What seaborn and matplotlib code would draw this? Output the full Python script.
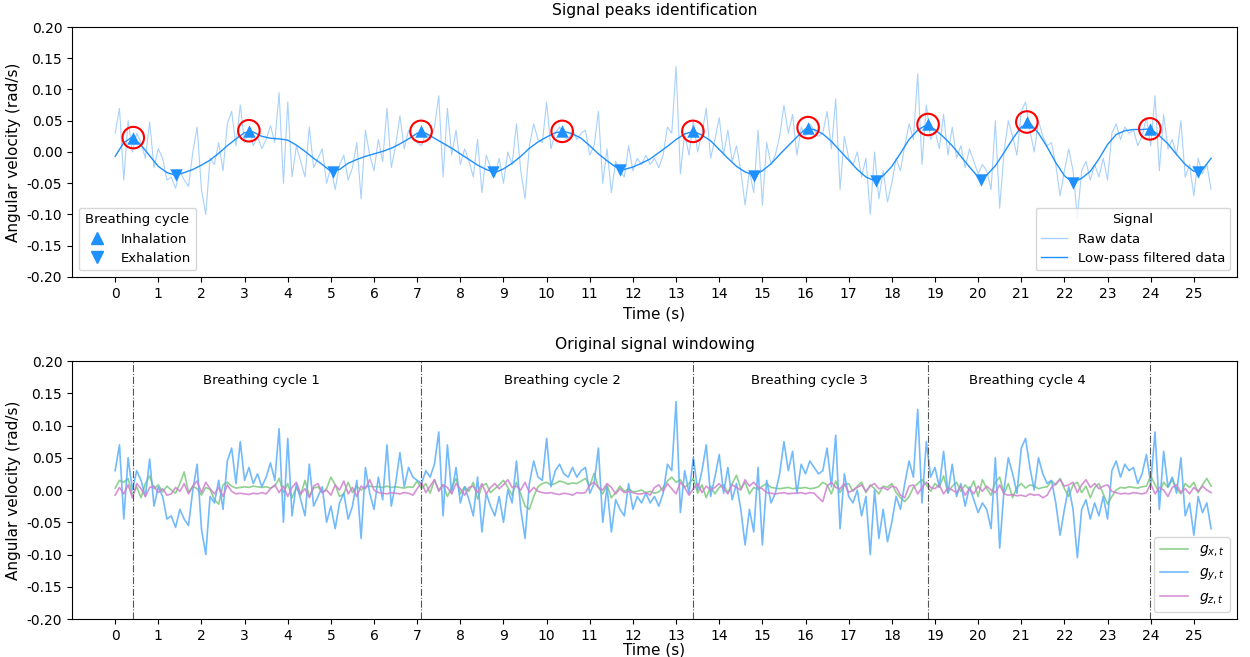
import numpy as np
import pandas as pd
import matplotlib
matplotlib.use("Agg")
import matplotlib.pyplot as plt
import seaborn as sns
from matplotlib.lines import Line2D

# ---------------- data ----------------
sample_rate = 10  # Hz (samples of the digitised signal)

gy = [
    0.030, 0.070, -0.045, 0.050, 0.000, 0.030, 0.015, -0.010, 0.048, -0.025,
    0.005, -0.010, -0.045, -0.040, -0.058, -0.030, -0.045, -0.055, 0.000, 0.040,
    -0.060, -0.100, -0.010, -0.020, 0.015, -0.030, 0.045, 0.065, 0.010, 0.075,
    0.015, 0.035, 0.010, 0.025, 0.005, 0.020, 0.042, 0.015, 0.095, -0.050,
    0.080, -0.040, 0.010, -0.015, -0.040, 0.040, -0.025, -0.010, 0.005, -0.050,
    -0.025, -0.060, -0.020, -0.005, -0.045, -0.025, 0.015, -0.075, 0.035, -0.005,
    -0.030, 0.020, -0.015, 0.070, -0.025, 0.010, 0.058, 0.005, 0.035, 0.020,
    0.015, 0.010, 0.030, 0.020, 0.040, 0.090, -0.040, 0.070, -0.005, 0.035,
    -0.020, 0.005, -0.015, -0.040, 0.020, -0.065, -0.005, -0.025, -0.040, -0.010,
    -0.050, 0.000, -0.020, 0.045, -0.030, -0.075, 0.010, 0.045, 0.020, 0.015,
    0.080, 0.005, 0.030, 0.040, 0.025, 0.020, 0.035, 0.020, 0.030, 0.035,
    -0.005, 0.010, 0.065, -0.050, 0.005, -0.065, -0.015, -0.030, -0.040, 0.010,
    -0.030, -0.010, -0.020, -0.005, -0.020, -0.010, -0.025, -0.005, 0.040, 0.030,
    0.137, -0.035, 0.030, -0.005, 0.050, 0.000, 0.030, 0.070, -0.010, 0.020,
    0.055, -0.005, 0.035, -0.015, 0.010, -0.030, -0.085, -0.030, -0.065, 0.035,
    -0.085, 0.015, -0.020, -0.005, 0.025, 0.075, 0.030, 0.060, -0.005, 0.040,
    0.025, 0.045, 0.035, 0.025, 0.030, 0.065, 0.005, 0.085, -0.060, 0.025,
    -0.010, -0.020, 0.000, -0.040, -0.010, -0.100, 0.000, -0.075, -0.030, -0.080,
    -0.050, -0.010, -0.030, 0.010, 0.045, 0.020, 0.125, -0.020, 0.075, 0.020,
    0.035, 0.005, 0.060, -0.005, 0.040, -0.010, 0.010, -0.025, 0.005, -0.015,
    -0.035, -0.020, -0.030, -0.060, 0.050, -0.090, 0.000, 0.050, 0.025, -0.005,
    0.065, 0.080, 0.035, 0.000, 0.050, 0.025, 0.010, 0.015, -0.020, -0.070,
    -0.030, 0.005, -0.030, -0.105, -0.030, -0.015, -0.045, -0.020, -0.040, -0.010,
    -0.045, 0.030, 0.045, 0.020, 0.040, 0.030, 0.035, 0.010, 0.025, 0.055,
    0.010, 0.090, -0.030, 0.060, 0.005, 0.020, -0.005, 0.050, -0.040, -0.020,
    -0.070, -0.010, -0.035, -0.020, -0.060,
]

gx = [
    0.003, 0.015, 0.012, 0.018, -0.008, 0.005, -0.012, 0.010, 0.022, 0.002,
    0.008, -0.003, 0.006, 0.000, -0.005, 0.010, 0.028, -0.004, 0.006, 0.002,
    -0.008, 0.004, 0.001, -0.015, -0.022, 0.008, 0.012, 0.006, 0.003, 0.004,
    0.005, 0.004, 0.006, 0.005, 0.004, 0.005, 0.003, 0.006, 0.018, -0.004,
    0.010, -0.012, 0.004, -0.008, 0.015, -0.010, 0.003, 0.005, -0.004, 0.002,
    0.020, 0.008, -0.010, -0.006, 0.012, -0.004, 0.006, 0.000, 0.005, 0.006,
    0.005, 0.005, 0.004, 0.006, 0.004, 0.005, 0.004, 0.003, 0.005, 0.004,
    0.014, 0.002, 0.010, -0.005, 0.016, 0.000, 0.008, -0.010, 0.004, 0.018,
    -0.006, 0.005, -0.002, 0.012, -0.014, 0.006, 0.010, -0.004, 0.002, 0.008,
    0.015, 0.004, -0.008, 0.012, -0.006, -0.025, -0.030, -0.010, 0.005, 0.010,
    0.012, 0.008, 0.010, 0.014, 0.012, 0.009, 0.011, 0.010, 0.014, 0.018,
    0.006, 0.026, 0.004, -0.006, 0.008, -0.012, -0.004, 0.006, -0.002, 0.002,
    -0.003, -0.002, 0.000, -0.004, -0.002, -0.005, -0.003, 0.004, 0.014, 0.020,
    0.012, 0.016, 0.004, 0.010, 0.018, -0.005, 0.008, -0.012, 0.006, -0.006,
    0.004, 0.008, -0.004, 0.010, 0.023, 0.002, 0.012, -0.006, 0.004, 0.001,
    0.006, 0.010, 0.004, 0.003, 0.002, 0.003, 0.004, 0.002, 0.003, 0.003,
    0.004, 0.002, 0.003, 0.005, 0.012, 0.008, -0.006, 0.014, -0.004, 0.008,
    0.010, -0.002, 0.006, 0.012, -0.004, 0.008, 0.002, -0.006, 0.006, 0.004,
    0.010, -0.004, -0.012, -0.018, -0.010, 0.004, 0.010, 0.016, 0.008, -0.002,
    0.010, 0.004, 0.022, -0.004, 0.006, 0.012, -0.002, 0.008, 0.000, 0.014,
    -0.010, 0.016, 0.002, -0.008, 0.012, 0.020, -0.006, 0.010, -0.012, 0.004,
    0.010, 0.003, 0.008, 0.006, 0.002, 0.004, 0.005, 0.014, 0.008, 0.018,
    0.002, -0.010, 0.008, 0.012, -0.004, 0.006, -0.012, 0.004, 0.010, -0.006,
    -0.022, -0.010, 0.000, 0.004, 0.003, 0.005, 0.004, 0.003, 0.005, 0.006,
    0.022, 0.008, -0.004, 0.012, 0.004, 0.016, 0.002, -0.006, 0.010, 0.004,
    0.012, -0.004, 0.008, 0.018, 0.006,
]

gz = [
    -0.008, 0.004, -0.006, 0.008, -0.012, 0.010, 0.002, -0.010, 0.004, 0.006,
    -0.004, 0.002, -0.008, -0.006, 0.004, -0.002, 0.010, -0.006, 0.006, 0.014,
    -0.004, 0.012, 0.002, -0.006, 0.004, -0.010, 0.008, -0.002, -0.006, -0.005,
    -0.006, -0.007, -0.005, -0.006, -0.004, -0.006, 0.002, 0.008, -0.004, 0.006,
    -0.010, 0.004, 0.012, -0.006, 0.002, -0.012, 0.006, 0.010, -0.004, 0.000,
    -0.008, 0.008, 0.000, 0.014, -0.006, 0.004, -0.010, 0.006, 0.002, 0.016,
    0.000, -0.004, -0.005, -0.006, -0.004, -0.005, -0.006, -0.004, -0.005, -0.008,
    0.002, 0.012, -0.004, 0.006, 0.016, -0.002, 0.008, 0.004, -0.006, 0.010,
    0.002, -0.008, 0.004, 0.006, -0.004, 0.010, -0.006, 0.004, 0.010, 0.002,
    0.008, 0.016, 0.004, 0.006, 0.000, 0.012, -0.004, 0.004, -0.002, -0.004,
    -0.005, -0.004, -0.006, -0.007, -0.005, -0.006, -0.008, -0.004, -0.005, -0.004,
    0.008, 0.012, 0.004, 0.000, 0.010, 0.004, -0.006, 0.002, -0.004, -0.002,
    -0.004, -0.006, -0.006, -0.004, -0.008, 0.004, 0.008, -0.002, 0.010, 0.002,
    -0.006, 0.012, 0.004, -0.008, 0.002, 0.010, -0.004, 0.006, 0.000, 0.004,
    0.010, 0.002, -0.006, 0.008, 0.004, 0.000, 0.016, 0.006, 0.012, 0.004,
    0.002, -0.004, -0.005, -0.006, -0.005, -0.004, -0.006, -0.005, -0.005, -0.004,
    -0.006, -0.004, -0.005, -0.012, -0.018, 0.006, 0.012, 0.004, 0.002, 0.010,
    -0.004, 0.000, 0.004, 0.008, -0.002, 0.006, 0.010, 0.002, 0.004, 0.000,
    0.006, 0.004, -0.008, -0.012, 0.006, 0.008, -0.006, 0.004, 0.012, 0.004,
    0.002, 0.008, -0.006, 0.004, 0.000, -0.004, 0.006, -0.008, 0.002, -0.006,
    0.006, -0.002, 0.006, 0.000, -0.004, 0.008, -0.006, -0.008, -0.007, -0.009,
    -0.008, -0.010, -0.006, -0.008, -0.007, -0.012, -0.008, 0.004, 0.010, 0.016,
    0.006, 0.008, 0.012, -0.004, 0.008, 0.016, 0.004, 0.010, 0.002, 0.006,
    0.008, -0.002, -0.004, -0.006, -0.005, -0.006, -0.004, -0.005, -0.006, -0.004,
    0.010, -0.006, 0.004, 0.000, -0.010, 0.004, 0.008, -0.004, 0.002, -0.006,
    0.004, -0.002, 0.006, 0.000, -0.004,
]

# low-pass filtered signal, read every 0.2 s
filt_rate = 5  # Hz
filtered = [
    -0.007, 0.015, 0.024, 0.011, -0.006, -0.023, -0.033, -0.037, -0.033, -0.028,
    -0.021, -0.013, -0.002, 0.010, 0.021, 0.031, 0.032, 0.025, 0.022, 0.021,
    0.019, 0.011, 0.001, -0.010, -0.020, -0.031, -0.028, -0.018, -0.012, -0.007,
    -0.003, 0.001, 0.006, 0.013, 0.021, 0.030, 0.030, 0.022, 0.014, 0.006,
    -0.003, -0.012, -0.021, -0.028, -0.033, -0.027, -0.018, -0.007, 0.006, 0.016,
    0.024, 0.031, 0.033, 0.029, 0.022, 0.010, -0.003, -0.014, -0.024, -0.028,
    -0.024, -0.018, -0.011, -0.001, 0.009, 0.020, 0.029, 0.033, 0.027, 0.018,
    0.004, -0.010, -0.023, -0.032, -0.037, -0.030, -0.019, -0.004, 0.010, 0.024,
    0.037, 0.036, 0.029, 0.017, 0.002, -0.013, -0.028, -0.040, -0.046, -0.038,
    -0.023, -0.002, 0.020, 0.035, 0.043, 0.036, 0.024, 0.010, -0.007, -0.024,
    -0.040, -0.037, -0.022, -0.001, 0.021, 0.040, 0.046, 0.030, 0.008, -0.017,
    -0.038, -0.049, -0.042, -0.031, -0.011, 0.012, 0.028, 0.034, 0.036, 0.036,
    0.037, 0.026, 0.013, -0.004, -0.020, -0.031, -0.028, -0.010,
]

inhale_t = [0.42, 3.10, 7.09, 10.36, 13.39, 16.06, 18.84, 21.13, 23.98]
inhale_v = [0.023, 0.034, 0.033, 0.033, 0.033, 0.039, 0.044, 0.048, 0.037]
exhale_t = [1.41, 5.05, 8.76, 11.70, 14.80, 17.63, 20.06, 22.20, 25.09]
exhale_v = [-0.037, -0.032, -0.032, -0.029, -0.038, -0.046, -0.045, -0.050, -0.032]

cycle_labels = ["Breathing cycle 1", "Breathing cycle 2", "Breathing cycle 3", "Breathing cycle 4"]
cycle_label_t = [3.38, 10.36, 16.08, 21.15]
x_ticks = list(range(0, 26))
y_ticks = [-0.20, -0.15, -0.10, -0.05, 0.00, 0.05, 0.10, 0.15, 0.20]

# ---------------- frames ----------------
t = np.arange(len(gy)) / sample_rate
t_f = np.arange(len(filtered)) / filt_rate
raw_df = pd.DataFrame({"t": t, "gx": gx, "gy": gy, "gz": gz})
filt_df = pd.DataFrame({"t": t_f, "v": filtered})
inh_df = pd.DataFrame({"t": inhale_t, "v": inhale_v})
exh_df = pd.DataFrame({"t": exhale_t, "v": exhale_v})

# ---------------- figure ----------------
fig = plt.figure(figsize=(12.5, 6.57), dpi=100)
L, W = 0.0576, 0.932
ax1 = fig.add_axes([L, 0.5784, W, 0.3805])
ax2 = fig.add_axes([L, 0.0578, W, 0.3927])

BLUE = "#1e90ff"
RAW = "#a9d1fb"
LAB = 11
TIT = 11.2
LEG = 9.5

sns.lineplot(data=raw_df, x="t", y="gy", ax=ax1, color=RAW, linewidth=0.8,
             estimator=None, legend=False)
sns.lineplot(data=filt_df, x="t", y="v", ax=ax1, color=BLUE, linewidth=1.0,
             estimator=None, legend=False)
sns.scatterplot(data=inh_df, x="t", y="v", ax=ax1, marker="^", s=80,
                color=BLUE, edgecolor=BLUE, linewidth=0, zorder=4, legend=False)
sns.scatterplot(data=exh_df, x="t", y="v", ax=ax1, marker="v", s=80,
                color=BLUE, edgecolor=BLUE, linewidth=0, zorder=4, legend=False)
ax1.scatter(inh_df["t"], inh_df["v"], s=240, facecolors="none",
            edgecolors="red", linewidths=1.5, zorder=5)

ax1.set_title("Signal peaks identification", fontsize=TIT, pad=9)
ax1.set_xlabel("Time (s)", fontsize=LAB)
ax1.set_ylabel("Angular velocity (rad/s)", fontsize=LAB)

leg_a = ax1.legend(
    handles=[Line2D([], [], ls="none", marker="^", color=BLUE, markersize=9),
             Line2D([], [], ls="none", marker="v", color=BLUE, markersize=9)],
    labels=["Inhalation", "Exhalation"], title="Breathing cycle",
    loc="lower left", fontsize=LEG, title_fontsize=LEG)
ax1.add_artist(leg_a)
ax1.legend(
    handles=[Line2D([], [], color=RAW, lw=1.0), Line2D([], [], color=BLUE, lw=1.0)],
    labels=["Raw data", "Low-pass filtered data"], title="Signal",
    loc="lower right", fontsize=LEG, title_fontsize=LEG)

# bottom
sns.lineplot(data=raw_df, x="t", y="gx", ax=ax2, color="#7cc97c", alpha=0.85,
             linewidth=1.2, estimator=None, label="$g_{x,t}$")
sns.lineplot(data=raw_df, x="t", y="gy", ax=ax2, color="#5aaefb", alpha=0.85,
             linewidth=1.2, estimator=None, label="$g_{y,t}$")
sns.lineplot(data=raw_df, x="t", y="gz", ax=ax2, color="#cf7fd0", alpha=0.85,
             linewidth=1.2, estimator=None, label="$g_{z,t}$")

bounds = inhale_t[::2]
for b in bounds:
    ax2.axvline(b, color="#555555", lw=0.8, ls="-.")
for xt, lab in zip(cycle_label_t, cycle_labels):
    ax2.text(xt, 0.17, lab, ha="center", va="center", fontsize=LEG)

ax2.set_title("Original signal windowing", fontsize=TIT, pad=9)
ax2.set_xlabel("Time (s)", fontsize=LAB, labelpad=0)
ax2.set_ylabel("Angular velocity (rad/s)", fontsize=LAB)
ax2.legend(loc="lower right", fontsize=10)

for ax in (ax1, ax2):
    ax.set_xlim(-1.0, 26.0)
    ax.set_ylim(-0.2, 0.2)
    ax.set_xticks(x_ticks)
    ax.set_yticks(y_ticks)
    ax.set_yticklabels([f"{v:.2f}" for v in y_ticks])
    ax.tick_params(labelsize=10)

fig.savefig("out.png", dpi=100)
